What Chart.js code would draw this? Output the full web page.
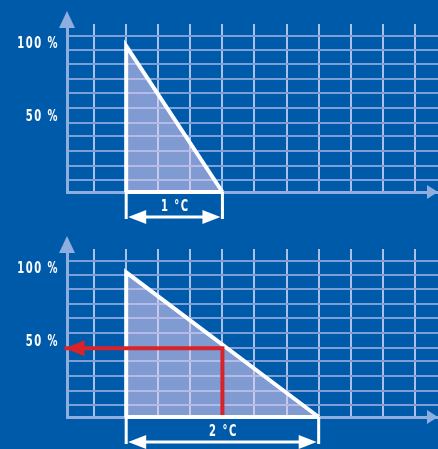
<!DOCTYPE html>
<html>
<head>
<meta charset="utf-8">
<script src="https://cdn.jsdelivr.net/npm/chart.js@4"></script>
<style>
  html, body { margin: 0; padding: 0; background: #005aaa; overflow: hidden; }
  canvas { display: block; }
</style>
</head>
<body>
<canvas id="topChart" width="438" height="225"></canvas>
<canvas id="bottomChart" width="438" height="224"></canvas>
<script>
// values (x in °C, y in %)
const xGridValues = [-0.333, 0, 0.333, 0.667, 1, 1.333, 1.667, 2, 2.333, 2.667, 3];
const yGridValues = [8, 18, 28, 38, 47.5, 57.5, 67.5, 77.5, 87.5, 97, 107];
const yTickLabels = [50, 100];
const topTriangle = [{x: 0, y: 0}, {x: 0, y: 100}, {x: 1, y: 0}];
const bottomTriangle = [{x: 0, y: 0}, {x: 0, y: 99}, {x: 2, y: 0}];
const readoutLine = [{x: 1, y: 1.4}, {x: 1, y: 47}, {x: -0.64, y: 47}];
const spanValues = [1, 2];
const spanLabels = ['1 °C', '2 °C'];

const AXIS = '#8eaee0';
const WHITE = '#ffffff';
const RED = '#d8232a';
const FONT = 'bold 15px "DejaVu Sans Condensed", "DejaVu Sans", sans-serif';

function arrowHead(ctx, tipX, tipY, dirX, dirY, len, half, color) {
    // dir points from base to tip
    const bx = tipX - dirX * len, by = tipY - dirY * len;
    ctx.beginPath();
    ctx.moveTo(tipX, tipY);
    ctx.lineTo(bx - dirY * half, by + dirX * half);
    ctx.lineTo(bx + dirY * half, by - dirX * half);
    ctx.closePath();
    ctx.fillStyle = color;
    ctx.fill();
}

// condensed bold text, like the printed labels
function narrowText(ctx, text, x, y, align) {
    ctx.save();
    ctx.translate(x, y);
    ctx.scale(0.74, 1);
    ctx.font = FONT;
    ctx.letterSpacing = '2px';
    ctx.fillStyle = WHITE;
    ctx.textAlign = align;
    ctx.textBaseline = 'middle';
    ctx.fillText(text, 0, 0);
    ctx.restore();
}

// axis arrows, percent labels, the span marker under the x axis and the red arrow tip
const sketchPlugin = {
    id: 'sketch',
    afterDraw(chart, args, opts) {
        const ctx = chart.ctx;
        const area = chart.chartArea;
        const xs = chart.scales.x;
        const ys = chart.scales.y;
        ctx.save();

        arrowHead(ctx, area.left, 11, 0, -1, 17, 8, AXIS);
        arrowHead(ctx, chart.width, area.bottom, 1, 0, 11, 7, AXIS);

        yTickLabels.forEach(v => {
            narrowText(ctx, v + ' %', area.left - 8, ys.getPixelForValue(v) - 2, 'right');
        });

        const x0 = xs.getPixelForValue(0);
        const x1 = xs.getPixelForValue(opts.span);
        const yA = area.bottom + 25;
        ctx.strokeStyle = WHITE;
        ctx.lineWidth = 3;
        ctx.beginPath();
        ctx.moveTo(x0, area.bottom);
        ctx.lineTo(x0, yA + 2);
        ctx.moveTo(x1, area.bottom);
        ctx.lineTo(x1, yA + 2);
        ctx.moveTo(x0 + 10, yA);
        ctx.lineTo(x1 - 10, yA);
        ctx.stroke();
        arrowHead(ctx, x0 + 2, yA, -1, 0, 18, 7, WHITE);
        arrowHead(ctx, x1 - 2, yA, 1, 0, 18, 7, WHITE);
        narrowText(ctx, opts.label, (x0 + x1) / 2 + 1, area.bottom + 15, 'center');

        if (opts.readout !== undefined) {
            const pts = chart.getDatasetMeta(opts.readout).data;
            const tip = pts[pts.length - 1];
            arrowHead(ctx, tip.x, tip.y, -1, 0, 20, 8, RED);
        }
        ctx.restore();
    }
};

function makeChart(id, triangle, spanIdx, withReadout) {
    const canvas = document.getElementById(id);
    const datasets = [];
    if (withReadout) {
        datasets.push({
            data: readoutLine,
            showLine: true,
            borderColor: RED,
            borderWidth: 4,
            borderJoinStyle: 'miter',
            pointRadius: 0,
            fill: false,
            clip: false
        });
    }
    // base of the triangle, white over the x axis
    datasets.push({
        data: [triangle[0], triangle[2]],
        showLine: true,
        borderColor: WHITE,
        borderWidth: 4,
        pointRadius: 0,
        fill: false,
        clip: false
    });
    datasets.push({
        data: triangle,
        showLine: true,
        borderColor: WHITE,
        borderWidth: 4,
        borderJoinStyle: 'miter',
        backgroundColor: 'rgba(226, 206, 240, 0.56)',
        fill: 'origin',
        pointRadius: 0,
        clip: false
    });

    return new Chart(canvas.getContext('2d'), {
        type: 'scatter',
        data: { datasets: datasets },
        options: {
            responsive: false,
            animation: false,
            devicePixelRatio: 1,
            layout: { padding: { top: 24, right: 0, bottom: canvas.height - 192, left: 0 } },
            plugins: {
                legend: { display: false },
                tooltip: { enabled: false },
                sketch: {
                    span: spanValues[spanIdx],
                    label: spanLabels[spanIdx],
                    readout: withReadout ? 0 : undefined
                }
            },
            scales: {
                x: {
                    type: 'linear',
                    min: -0.615,
                    max: 3.24,
                    afterBuildTicks: axis => { axis.ticks = xGridValues.map(v => ({ value: v })); },
                    ticks: { display: false },
                    grid: { color: '#a9c1e8', lineWidth: 2, drawTicks: false },
                    border: { display: true, color: AXIS, width: 3 }
                },
                y: {
                    type: 'linear',
                    min: 0,
                    max: 115,
                    afterBuildTicks: axis => { axis.ticks = yGridValues.map(v => ({ value: v })); },
                    afterFit: axis => { axis.width = 67; },
                    ticks: { display: false },
                    grid: { drawTicks: false, lineWidth: 2, color: '#7c9fd8' },
                    border: { display: true, color: AXIS, width: 3 }
                }
            }
        },
        plugins: [sketchPlugin]
    });
}

makeChart('topChart', topTriangle, 0, false);
makeChart('bottomChart', bottomTriangle, 1, true);
</script>
</body>
</html>
